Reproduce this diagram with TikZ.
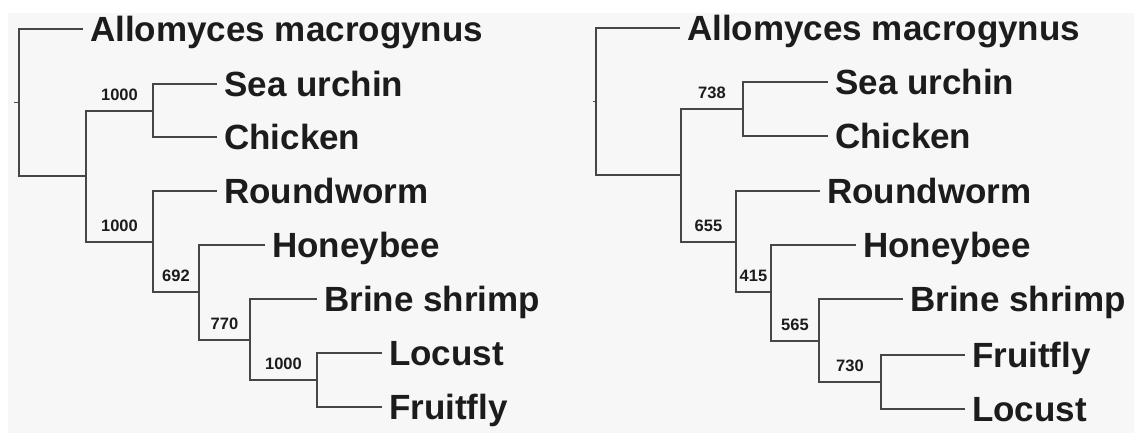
\documentclass[tikz,border=0pt]{standalone}
\usepackage{fontspec}
\setmainfont{Liberation Sans}
\usepackage{xcolor}
\definecolor{branch}{RGB}{70,70,70}
\definecolor{taxon}{RGB}{28,28,28}
\definecolor{paper}{RGB}{247,247,247}
\usepackage{tikz}
\tikzset{
  tr_leaf/.style={anchor=west,
    inner xsep=7pt,inner ysep=0pt,
    text height=25pt,text depth=0pt,
    text=taxon,
    font=\fontsize{35}{40}\selectfont\bfseries},
  tr_boot/.style={anchor=south,
    inner sep=0pt,
    text height=12pt,text depth=0pt,
    yshift=10pt,text=taxon,
    font=\fontsize{16.5}{19}\selectfont\bfseries},
  branch_ln/.style={draw=branch,line width=1.7pt},
}

\begin{document}
\begin{tikzpicture}[x=1pt,y=-1pt]
  \useasboundingbox (0,0) rectangle (1138,437);
  \fill[paper] (8,13) rectangle (1134,433);

  % left tree
  \coordinate (lRt) at (14,102.5);
  \coordinate (lR) at (19,102.5);
  \coordinate (lA) at (86,176);
  \coordinate (lB) at (153,111);
  \coordinate (lC) at (153,242);
  \coordinate (lD) at (199,292);
  \coordinate (lE) at (250,340);
  \coordinate (lF) at (317,380);
  \node (lallo) [tr_leaf] at (83,29) {Allomyces macrogynus};
  \node (lsea) [tr_leaf] at (217,84) {Sea urchin};
  \node (lchick) [tr_leaf] at (217,137) {Chicken};
  \node (lround) [tr_leaf] at (217,191) {Roundworm};
  \node (lhoney) [tr_leaf] at (265,245) {Honeybee};
  \node (lbrine) [tr_leaf] at (317,299) {Brine shrimp};
  \node (llocust) [tr_leaf] at (382,353) {Locust};
  \node (lfruit) [tr_leaf] at (382,407) {Fruitfly};
  \draw[branch_ln] (lRt) -- (lR);
  \draw[branch_ln] (lR) |- (lallo.west);
  \draw[branch_ln] (lR) |- (lA);
  \draw[branch_ln] (lA) |- node[tr_boot,pos=0.75] {1000} (lB);
  \draw[branch_ln] (lB) |- (lsea.west);
  \draw[branch_ln] (lB) |- (lchick.west);
  \draw[branch_ln] (lA) |- node[tr_boot,pos=0.75] {1000} (lC);
  \draw[branch_ln] (lC) |- (lround.west);
  \draw[branch_ln] (lC) |- node[tr_boot,pos=0.75] {692} (lD);
  \draw[branch_ln] (lD) |- (lhoney.west);
  \draw[branch_ln] (lD) |- node[tr_boot,pos=0.75] {770} (lE);
  \draw[branch_ln] (lE) |- (lbrine.west);
  \draw[branch_ln] (lE) |- node[tr_boot,pos=0.75] {1000} (lF);
  \draw[branch_ln] (lF) |- (llocust.west);
  \draw[branch_ln] (lF) |- (lfruit.west);

  % right tree
  \coordinate (rRt) at (593,101.5);
  \coordinate (rR) at (596,101.5);
  \coordinate (rA) at (681,175);
  \coordinate (rB) at (743,109);
  \coordinate (rC) at (736,242);
  \coordinate (rD) at (771,292);
  \coordinate (rE) at (819,341);
  \coordinate (rF) at (881,382);
  \node (rallo) [tr_leaf] at (680,28) {Allomyces macrogynus};
  \node (rsea) [tr_leaf] at (828,82) {Sea urchin};
  \node (rchick) [tr_leaf] at (828,136) {Chicken};
  \node (rround) [tr_leaf] at (820,191) {Roundworm};
  \node (rhoney) [tr_leaf] at (856,245) {Honeybee};
  \node (rbrine) [tr_leaf] at (903,299) {Brine shrimp};
  \node (rfruit) [tr_leaf] at (965,355) {Fruitfly};
  \node (rlocust) [tr_leaf] at (965,409) {Locust};
  \draw[branch_ln] (rRt) -- (rR);
  \draw[branch_ln] (rR) |- (rallo.west);
  \draw[branch_ln] (rR) |- (rA);
  \draw[branch_ln] (rA) |- node[tr_boot,pos=0.75] {738} (rB);
  \draw[branch_ln] (rB) |- (rsea.west);
  \draw[branch_ln] (rB) |- (rchick.west);
  \draw[branch_ln] (rA) |- node[tr_boot,pos=0.75] {655} (rC);
  \draw[branch_ln] (rC) |- (rround.west);
  \draw[branch_ln] (rC) |- node[tr_boot,pos=0.75] {415} (rD);
  \draw[branch_ln] (rD) |- (rhoney.west);
  \draw[branch_ln] (rD) |- node[tr_boot,pos=0.75] {565} (rE);
  \draw[branch_ln] (rE) |- (rbrine.west);
  \draw[branch_ln] (rE) |- node[tr_boot,pos=0.75] {730} (rF);
  \draw[branch_ln] (rF) |- (rfruit.west);
  \draw[branch_ln] (rF) |- (rlocust.west);
\end{tikzpicture}
\end{document}
